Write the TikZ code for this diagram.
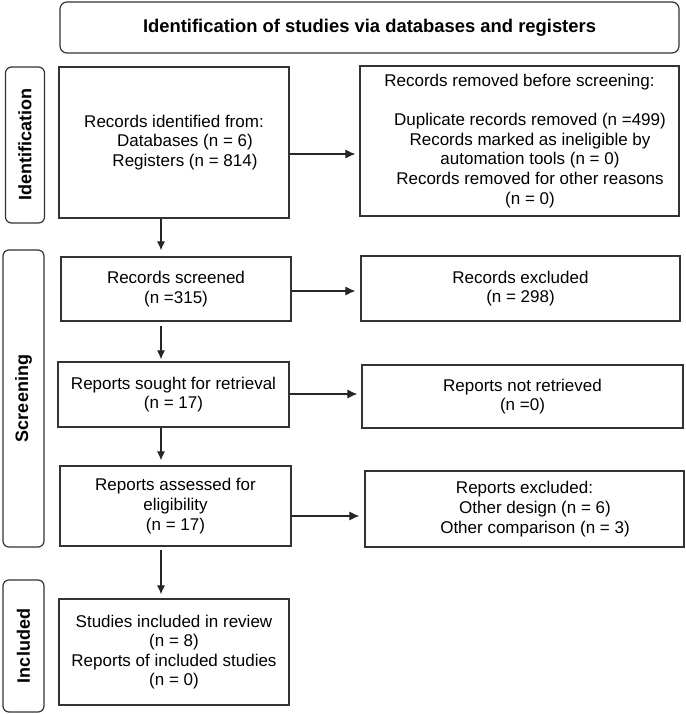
\documentclass[tikz,border=0pt]{standalone}
\usepackage{fontspec}
\setmainfont{Liberation Sans}
\usetikzlibrary{arrows.meta}
\begin{document}
\begin{tikzpicture}[x=1pt,y=-1pt,
  box/.style={draw=black!80, line width=1.2pt, inner sep=0pt, align=center,
    font=\fontsize{17}{19.6}\selectfont, text=black},
  titlebox/.style={box, rounded corners=7pt, font=\bfseries\fontsize{18.4}{21}\selectfont},
  side/.style={draw=black!80, line width=1.2pt, rounded corners=6pt, inner sep=0pt},
  sidelabel/.style={rotate=90, inner sep=0pt, font=\bfseries\fontsize{18}{20}\selectfont},
  arr/.style={draw=black!85, line width=1.1pt, -{Latex[length=9pt,width=8pt]}},
  harr/.style={arr, -{Latex[length=10pt,width=9pt]}}]
\useasboundingbox (0,0) rectangle (685,714);

% title
\node[titlebox, minimum width=619pt, minimum height=51pt] (title) at (369.5,27.5)
  {Identification of studies via databases and registers};

% side labels
\node[side, minimum width=39pt, minimum height=156pt] (sI) at (25,145) {};
\node[sidelabel] (sIl) at (sI.center) {Identification};
\node[side, minimum width=41pt, minimum height=297pt] (sS) at (23.5,398.5) {};
\node[sidelabel] (sSl) at (sS.center) {Screening};
\node[side, minimum width=41pt, minimum height=132pt] (sN) at (23.5,646) {};
\node[sidelabel] (sNl) at (sN.center) {Included};

% boxes
\node[box, minimum width=230pt, minimum height=151pt] (idf) at (174,142.5)
  {Records identified from:\\\hspace*{22pt}Databases (n = 6)\\\hspace*{22pt}Registers (n = 814)};
\node[box, minimum width=319pt, minimum height=150pt] (rem) at (519.5,141)
  {Records removed before screening:\\[19.6pt]
   \hspace*{21pt}Duplicate records removed (n =499)\\
   \hspace*{21pt}Records marked as ineligible by\\
   \hspace*{21pt}automation tools (n = 0)\\
   \hspace*{21pt}Records removed for other reasons\\
   \hspace*{21pt}(n = 0)};
\node[box, minimum width=230pt, minimum height=64pt] (scr) at (176,289)
  {Records screened\\(n =315)};
\node[box, minimum width=319pt, minimum height=65pt] (exc) at (520.5,288.5)
  {Records excluded\\(n = 298)};
\node[box, minimum width=231pt, minimum height=65pt] (sou) at (173.5,394.5)
  {Reports sought for retrieval\\(n = 17)};
\node[box, minimum width=321pt, minimum height=63pt] (nret) at (522.5,396.5)
  {Reports not retrieved\\(n =0)};
\node[box, minimum width=231pt, minimum height=80pt] (ass) at (175.5,506)
  {Reports assessed for\\eligibility\\(n = 17)};
\node[box, minimum width=319pt, minimum height=76pt] (rexc) at (524.5,509)
  {Reports excluded:\\\hspace*{21pt}Other design (n = 6)\\\hspace*{21pt}Other comparison (n = 3)};
\node[box, minimum width=230pt, minimum height=106pt] (inc) at (174,652)
  {Studies included in review\\(n = 8)\\Reports of included studies\\(n = 0)};

% helper coordinates
\coordinate (vx) at (161,0);
\coordinate (h1) at (0,154);
\coordinate (h2) at (0,291);
\coordinate (h3) at (0,394);
\coordinate (h4) at (0,516);

% vertical arrows
\draw[arr, shorten >=6pt] (idf.south -| vx) -- (scr.north -| vx);
\draw[arr, shorten <=4pt, shorten >=2pt] (scr.south -| vx) -- (sou.north -| vx);
\draw[arr, shorten >=5pt] (sou.south -| vx) -- (ass.north -| vx);
\draw[arr, shorten <=3pt, shorten >=4pt] (ass.south -| vx) -- (inc.north -| vx);

% horizontal arrows
\draw[harr, shorten >=4pt] (idf.east |- h1) -- (rem.west |- h1);
\draw[harr, shorten >=5pt] (scr.east |- h2) -- (exc.west |- h2);
\draw[harr, shorten >=4pt] (sou.east |- h3) -- (nret.west |- h3);
\draw[harr, shorten >=5pt] (ass.east |- h4) -- (rexc.west |- h4);
\end{tikzpicture}
\end{document}
